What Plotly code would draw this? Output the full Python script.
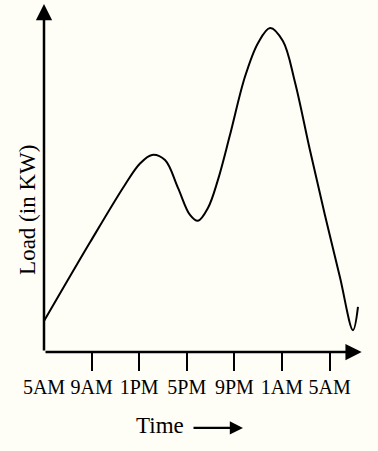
import plotly.graph_objects as go

# ---- data (hours after 5AM, load in arbitrary KW units) ----
HOURS = [0, 3.87, 6.81, 8.07, 9.08, 10.17, 11.26, 12.27, 12.94, 13.78, 14.62,
         15.63, 16.89, 17.98, 19.0, 20.08, 21.09, 22.35, 23.61, 24.87, 25.97, 26.39]
LOAD = [8.9, 31.6, 48.2, 54.3, 56.8, 55.3, 47.3, 39.5, 37.8, 41.5, 49.6,
        62.5, 79.3, 89.0, 93.4, 89.6, 77.8, 58.2, 39.5, 21.6, 6.3, 13.0]
TICK_HOURS = [0, 4, 8, 12, 16, 20, 24]
TICK_LABELS = ["5AM", "9AM", "1PM", "5PM", "9PM", "1AM", "5AM"]
X_AXIS_END = 26.7
Y_AXIS_END = 100.3

BG = "#fefef7"
FONT = "Liberation Serif"

fig = go.Figure()
fig.add_trace(go.Scatter(x=HOURS, y=LOAD, mode="lines",
                         line=dict(color="black", width=2, shape="spline", smoothing=1.0),
                         hoverinfo="skip", showlegend=False))
fig.add_trace(go.Scatter(x=[TICK_HOURS[0]], y=[0], xaxis="x2", mode="markers",
                         marker=dict(opacity=0), showlegend=False, hoverinfo="skip"))

XR = [-0.084, 27.4]
fig.update_layout(
    width=378, height=451,
    margin=dict(l=43, r=8, t=2, b=99),
    paper_bgcolor=BG, plot_bgcolor=BG,
    font=dict(family=FONT, color="black"),
    xaxis=dict(range=XR, showgrid=False, zeroline=False, showline=False,
               tickvals=TICK_HOURS[1:], ticks="outside", ticklen=18, tickwidth=2,
               tickcolor="black", showticklabels=False, fixedrange=True),
    xaxis2=dict(range=XR, overlaying="x", side="bottom", showgrid=False, zeroline=False,
                showline=False, tickvals=TICK_HOURS, ticktext=TICK_LABELS, ticks="",
                ticklabelstandoff=21, tickfont=dict(size=20, family=FONT, color="black"),
                fixedrange=True),
    yaxis=dict(range=[0, 100.86], showgrid=False, zeroline=False, showline=False,
               showticklabels=False, ticks="", fixedrange=True),
)

# axis arrows
fig.add_annotation(x=X_AXIS_END, y=0, ax=0, ay=0, xref="x", yref="y", axref="x", ayref="y",
                   text="", showarrow=True, arrowhead=2, arrowsize=1.3, arrowwidth=2.5,
                   arrowcolor="black", standoff=0)
fig.add_annotation(x=0, y=Y_AXIS_END, ax=0, ay=0, xref="x", yref="y", axref="x", ayref="y",
                   text="", showarrow=True, arrowhead=2, arrowsize=1.3, arrowwidth=2.5,
                   arrowcolor="black", standoff=0)

# y label
fig.add_annotation(x=-0.0459, y=0.406, xref="paper", yref="paper", text="Load (in KW)",
                   textangle=-90, showarrow=False,
                   font=dict(size=23, family=FONT, color="black"),
                   xanchor="center", yanchor="middle")
# x label with arrow
fig.add_annotation(x=0.358, y=-0.2086, xref="paper", yref="paper", text="Time",
                   showarrow=False, font=dict(size=23, family=FONT, color="black"),
                   xanchor="center", yanchor="middle")
fig.add_annotation(x=0.6116, y=-0.217, xref="paper", yref="paper", ax=-51, ay=0,
                   text="", showarrow=True, arrowhead=2, arrowsize=1.2, arrowwidth=2.2,
                   arrowcolor="black", standoff=0)

fig.write_html("out.html")
